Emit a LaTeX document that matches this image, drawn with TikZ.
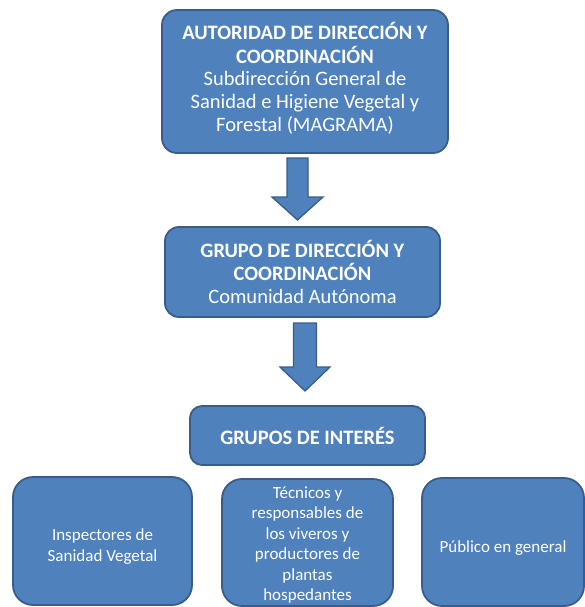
\documentclass[tikz,border=0pt]{standalone}
\usepackage{fontspec}
\setmainfont{Carlito}
\definecolor{boxfill}{HTML}{4F81BD}
\definecolor{boxline}{HTML}{385D8A}
\newcommand\shiftedtext[2]{\raisebox{#1}[\height][\depth]{\begin{tabular}{@{}c@{}}#2\end{tabular}}}
\tikzset{
  box/.style={draw=boxline, line width=1.8pt, fill=boxfill, text=white, align=center, inner sep=0pt},
  bigfont/.style={font=\fontsize{20.5}{22.7}\selectfont},
  smallfont/.style={font=\fontsize{17}{20.4}\selectfont},
  blockarrow/.style={draw=boxline, line width=1.3pt, fill=boxfill, line join=miter}
}
\begin{document}
\begin{tikzpicture}[x=1pt,y=-1pt]
\useasboundingbox (0,0) rectangle (585,607);
\node[box, bigfont, rounded corners=15pt, minimum width=286pt, minimum height=143pt] (top) at (305,81.5)
  {\shiftedtext{1.5pt}{\textbf{AUTORIDAD DE DIRECCIÓN Y}\\\textbf{COORDINACIÓN}\\Subdirección General de\\Sanidad e Higiene Vegetal y\\Forestal (MAGRAMA)}};
\node[box, bigfont, rounded corners=14pt, minimum width=275pt, minimum height=90pt] (mid) at (302.5,272)
  {\textbf{GRUPO DE DIRECCIÓN Y}\\\textbf{COORDINACIÓN}\\Comunidad Autónoma};
\node[box, bigfont, rounded corners=12pt, minimum width=235pt, minimum height=59pt] (grp) at (307.5,435.5)
  {\textbf{GRUPOS DE INTERÉS}};
\node[box, smallfont, rounded corners=20pt, minimum width=179pt, minimum height=128pt] (insp) at (102.5,541)
  {\shiftedtext{-6pt}{Inspectores de\\Sanidad Vegetal}};
\node[box, smallfont, rounded corners=20pt, minimum width=171pt, minimum height=127pt] (tec) at (307.5,542.5)
  {\shiftedtext{-3pt}{Técnicos y\\responsables de\\los viveros y\\productores de\\plantas\\hospedantes}};
\node[box, smallfont, rounded corners=20pt, minimum width=162pt, minimum height=128pt] (pub) at (503,542)
  {\shiftedtext{-6pt}{Público en general}};
% block arrows
\filldraw[blockarrow] (287,158) -- (308,158) -- (308,197) -- (323,197) -- (297.5,220) -- (272,197) -- (287,197) -- cycle;
\filldraw[blockarrow] (293.5,323) -- (316.5,323) -- (316.5,367) -- (330,367) -- (305,391) -- (280,367) -- (293.5,367) -- cycle;
\end{tikzpicture}
\end{document}
